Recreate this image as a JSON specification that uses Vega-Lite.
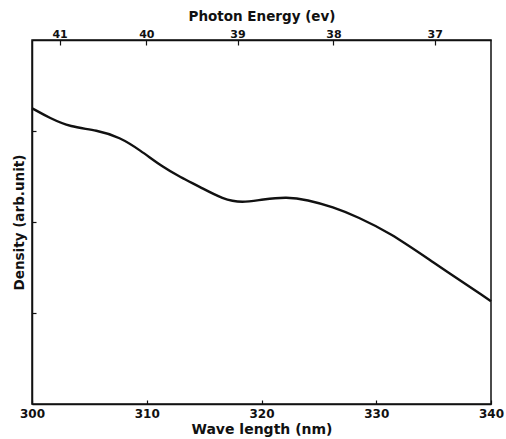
{
  "$schema": "https://vega.github.io/schema/vega-lite/v6.json",
  "width": 459,
  "height": 364,
  "autosize": {"type": "none"},
  "padding": {"left": 32, "top": 40, "right": 15, "bottom": 35},
  "background": "white",
  "config": {
    "view": {"stroke": "#111", "strokeWidth": 1.5},
    "axis": {
      "domainColor": "#111",
      "domainWidth": 1.5,
      "tickColor": "#111",
      "tickWidth": 1.2,
      "grid": false,
      "labelColor": "#111",
      "titleColor": "#111",
      "labelFont": "DejaVu Sans",
      "titleFont": "DejaVu Sans",
      "labelFontWeight": "bold",
      "titleFontWeight": "bold"
    }
  },
  "data": {
    "values": [
      {"wavelength": 300.0, "density": 3.25},
      {"wavelength": 301.57, "density": 3.14},
      {"wavelength": 303.31, "density": 3.045},
      {"wavelength": 305.66, "density": 3.01},
      {"wavelength": 307.67, "density": 2.93},
      {"wavelength": 309.41, "density": 2.79},
      {"wavelength": 311.42, "density": 2.6},
      {"wavelength": 312.9, "density": 2.495},
      {"wavelength": 314.64, "density": 2.385},
      {"wavelength": 316.65, "density": 2.25},
      {"wavelength": 318.3, "density": 2.21},
      {"wavelength": 320.13, "density": 2.25},
      {"wavelength": 322.22, "density": 2.275},
      {"wavelength": 323.97, "density": 2.245},
      {"wavelength": 326.23, "density": 2.165},
      {"wavelength": 328.41, "density": 2.055},
      {"wavelength": 331.2, "density": 1.88},
      {"wavelength": 334.69, "density": 1.58},
      {"wavelength": 340.0, "density": 1.13}
    ]
  },
  "resolve": {"axis": {"x": "independent"}},
  "layer": [
    {
      "mark": {"type": "line", "color": "#111", "strokeWidth": 2.4, "interpolate": "basis"},
      "encoding": {
        "x": {
          "field": "wavelength",
          "type": "quantitative",
          "scale": {"domain": [300, 340], "nice": false, "zero": false},
          "axis": {
            "orient": "bottom",
            "values": [300, 310, 320, 330, 340],
            "title": "Wave  length (nm)",
            "titleFontSize": 14,
            "titlePadding": 3,
            "labelFontSize": 12,
            "tickSize": -4,
            "labelPadding": 8,
            "labelFlush": false
          }
        },
        "y": {
          "field": "density",
          "type": "quantitative",
          "scale": {"domain": [0, 4], "nice": false, "zero": true},
          "axis": {
            "orient": "left",
            "values": [1, 2, 3],
            "labels": false,
            "tickSize": -4,
            "title": "Density (arb.unit)",
            "titleFontSize": 13.5,
            "titlePadding": 5
          }
        }
      }
    },
    {
      "mark": {"type": "point", "opacity": 0},
      "encoding": {
        "x": {
          "field": "wavelength",
          "type": "quantitative",
          "axis": {
            "orient": "top",
            "values": [302.4, 309.96, 317.91, 326.27, 335.09],
            "labelExpr": "format(1239.84 / datum.value * 10, '.0f')",
            "title": "Photon Energy (ev)",
            "titleFontSize": 13.5,
            "titlePadding": 5,
            "labelFontSize": 11,
            "tickSize": -5,
            "labelPadding": 6
          }
        },
        "y": {"field": "density", "type": "quantitative"}
      }
    }
  ]
}
